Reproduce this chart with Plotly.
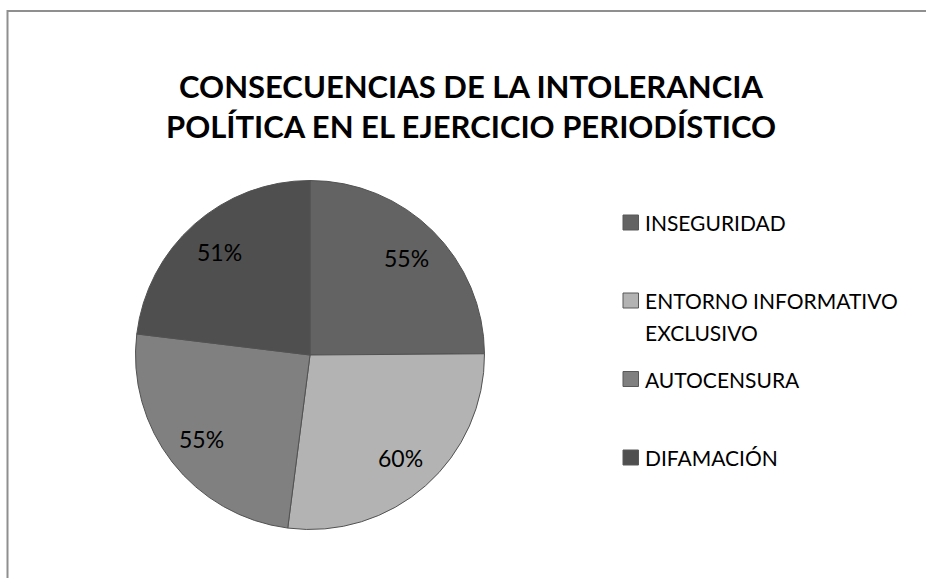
import math
import plotly.graph_objects as go

labels = ["INSEGURIDAD", "ENTORNO INFORMATIVO EXCLUSIVO", "AUTOCENSURA", "DIFAMACIÓN"]
legend_lines = [["INSEGURIDAD"], ["ENTORNO INFORMATIVO", "EXCLUSIVO"], ["AUTOCENSURA"], ["DIFAMACIÓN"]]
values = [55, 60, 55, 51]
colors = ["#636363", "#b3b3b3", "#808080", "#4f4f4f"]
title = "CONSECUENCIAS DE LA INTOLERANCIA<br>POLÍTICA EN EL EJERCICIO PERIODÍSTICO"

W, H = 926, 578
FONT = "Lato, Carlito, Calibri, sans-serif"

def px(x):
    return x / W

def py(y):
    return 1 - y / H

# pie placement (pixels)
CX, CY, R = 310, 355, 174.5

fig = go.Figure(go.Pie(
    labels=labels,
    values=values,
    textinfo="none",
    sort=False,
    direction="clockwise",
    rotation=0,
    marker=dict(colors=colors, line=dict(color="#525252", width=1)),
    domain=dict(x=[px(CX - R), px(CX + R)], y=[py(CY + R), py(CY - R)]),
    showlegend=False,
    hoverinfo="label+value",
))

annotations = []
# data labels placed along each slice's bisector
total = sum(values)
cum = 0
for v in values:
    mid = (cum + v / 2) / total * 2 * math.pi
    cum += v
    r = 0.785 * R
    x = CX + r * math.sin(mid)
    y = CY - r * math.cos(mid)
    annotations.append(dict(text=f"{v}%", xref="paper", yref="paper", x=px(x), y=py(y),
                            xanchor="center", yanchor="middle", showarrow=False,
                            font=dict(family=FONT, size=23, color="#000000")))

shapes = [dict(type="rect", xref="paper", yref="paper",
               x0=px(7.5), x1=px(940), y0=py(11), y1=py(600),
               line=dict(color="#8f8f8f", width=2), fillcolor="rgba(0,0,0,0)", layer="below")]

legend_y = [222.5, 300.5, 379, 457.5]
LINE_GAP = 31.5
for lines, col, ly in zip(legend_lines, colors, legend_y):
    shapes.append(dict(type="rect", xref="paper", yref="paper",
                       x0=px(623), x1=px(638.5), y0=py(ly - 7.5), y1=py(ly + 7.5),
                       fillcolor=col, line=dict(color="#595959", width=1)))
    for k, line in enumerate(lines):
        annotations.append(dict(text=line, xref="paper", yref="paper", x=px(643), y=py(ly + k * LINE_GAP),
                                xanchor="left", yanchor="middle", align="left", showarrow=False,
                                font=dict(family=FONT, size=21, color="#000000")))

fig.update_layout(
    width=W, height=H,
    margin=dict(l=0, r=0, t=0, b=0),
    paper_bgcolor="white",
    title=dict(text=title, x=px(471), xanchor="center", y=py(97.5), yanchor="middle",
               font=dict(family=FONT, size=31, color="#000000", weight="bold")),
    shapes=shapes,
    annotations=annotations,
)

fig.write_html("out.html", config={"displayModeBar": False},
               post_script="document.body.style.margin='0';")
